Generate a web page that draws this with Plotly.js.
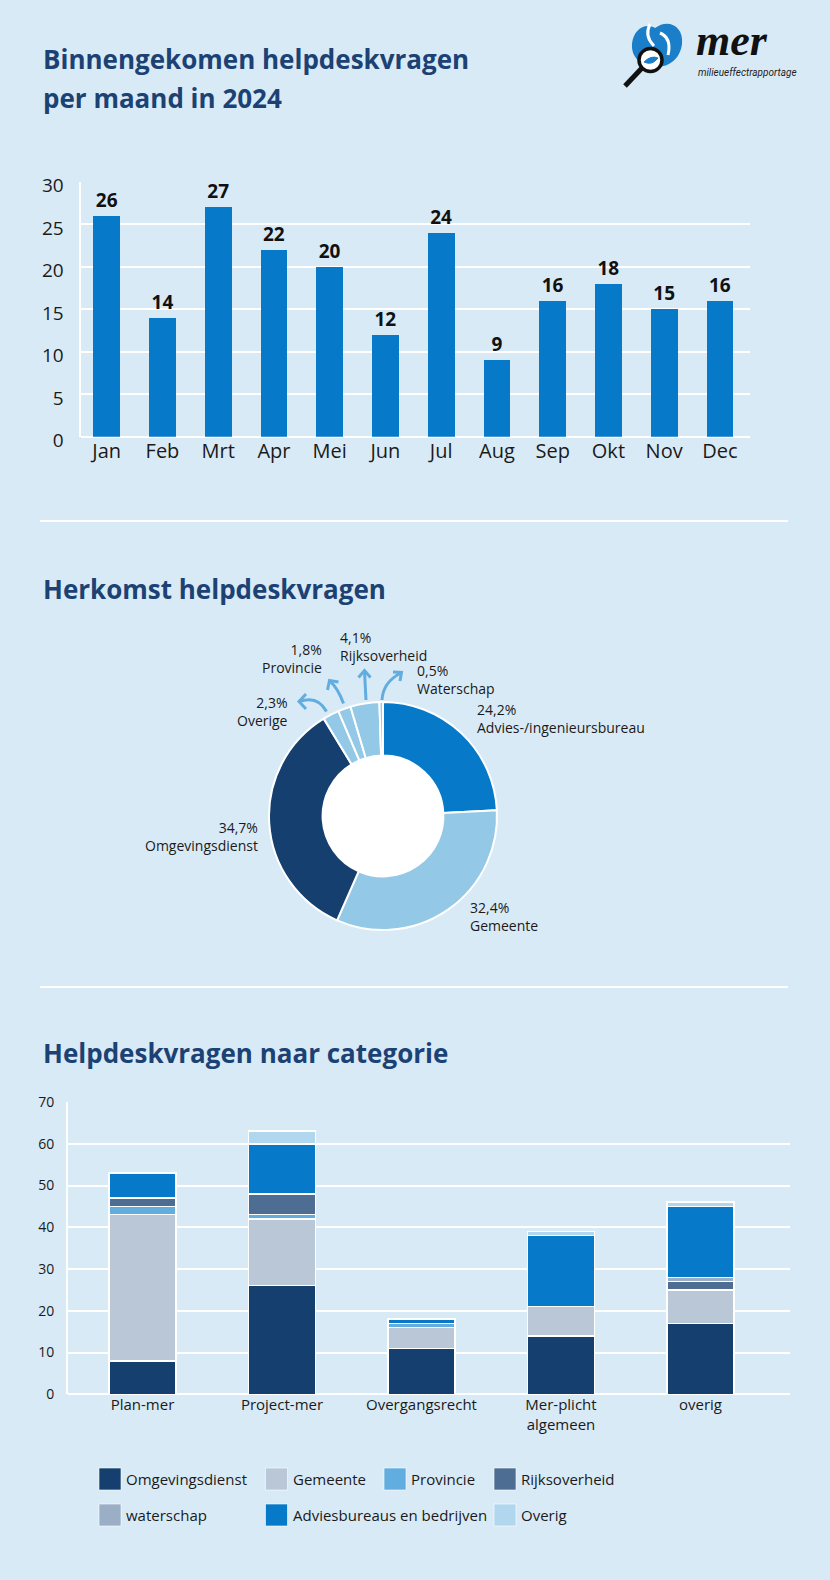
<!DOCTYPE html>
<html>
<head>
<meta charset="utf-8">
<script src="https://cdn.plot.ly/plotly-3.0.1.min.js"></script>
<style>html,body{margin:0;padding:0;background:#d9eaf7;}#chart{width:830px;height:1580px;}</style>
</head>
<body>
<div id="chart"></div>
<script>
// ---------- DATA ----------
const months = ['Jan','Feb','Mrt','Apr','Mei','Jun','Jul','Aug','Sep','Okt','Nov','Dec'];
const monthlyQuestions = [26,14,27,22,20,12,24,9,16,18,15,16];

const originLabels = ['Advies-/ingenieursbureau','Gemeente','Omgevingsdienst','Overige','Provincie','Rijksoverheid','Waterschap'];
const originShares = [24.2,32.4,34.7,2.3,1.8,4.1,0.5];

const categories = ['Plan-mer','Project-mer','Overgangsrecht','Mer-plicht<br>algemeen','overig'];
const seriesNames = ['Omgevingsdienst','Gemeente','Provincie','Rijksoverheid','waterschap','Adviesbureaus en bedrijven','Overig'];
const omgevingsdienst = [8,26,11,14,17];
const gemeente = [35,16,5,7,8];
const provincie = [2,1,1,0,0];
const rijksoverheid = [2,5,0,0,2];
const waterschap = [0,0,0,0,1];
const adviesbureaus = [6,12,1,17,17];
const overig = [0,3,0,1,1];

const titles = ['Binnengekomen helpdeskvragen','per maand in 2024','Herkomst helpdeskvragen','Helpdeskvragen naar categorie'];

// ---------- STYLE ----------
const W = 830, H = 1580;
const X = p => p / W;
const Y = p => 1 - p / H;
const FONT = 'Open Sans, Noto Sans, sans-serif';
const TITLE_COLOR = '#1c4274';
const TXT = '#1a1a1a';
const seriesColors = ['#143f6e','#b9c7d7','#62addf','#4e6d92','#9aaec6','#0679c9','#b1d7ef'];
const pieColors = ['#0679c9','#93c9e7','#143f6e','#93c9e7','#93c9e7','#93c9e7','#93c9e7'];
const ARROW = '#62addf';

const traces = [];

// Chart 1: monthly bars
traces.push({
  type:'bar', x: months, y: monthlyQuestions, xaxis:'x', yaxis:'y',
  marker:{color:'#0679c9'},
  texttemplate:'<b>%{y}</b>', textposition:'outside', constraintext:'none', cliponaxis:false,
  textfont:{family:FONT, size:19, color:'#111'}, hoverinfo:'x+y'
});

// Chart 2: donut
traces.push({
  type:'pie', labels: originLabels, values: originShares, sort:false, direction:'clockwise', rotation:0,
  hole:0.53, textinfo:'none', marker:{colors:pieColors, line:{color:'#ffffff', width:2}},
  domain:{x:[X(269),X(497)], y:[Y(930),Y(702)]}, hoverinfo:'label+percent'
});

// Chart 3: stacked bars
const stackSeries = [omgevingsdienst,gemeente,provincie,rijksoverheid,waterschap,adviesbureaus,overig];
stackSeries.forEach((vals,i)=>{
  traces.push({
    type:'bar', x: categories, y: vals, name: seriesNames[i], xaxis:'x2', yaxis:'y2',
    marker:{color:seriesColors[i], line:{color:'#ffffff', width:1.5}}, hoverinfo:'name+y'
  });
});

// ---------- ANNOTATIONS ----------
const annotations = [];
const titleAnn = (text, y) => ({text:'<b>'+text+'</b>', xref:'paper', yref:'paper', x:X(41), y:Y(y), xanchor:'left', yanchor:'middle', showarrow:false, font:{family:FONT, size:26, color:TITLE_COLOR}});
annotations.push(titleAnn(titles[0], 59));
annotations.push(titleAnn(titles[1], 98));
annotations.push(titleAnn(titles[2], 589));
annotations.push(titleAnn(titles[3], 1053));

// pie labels
const pieLabelPos = [
  {x:475, y:718, a:'left'},
  {x:468, y:916, a:'left'},
  {x:260, y:836, a:'right'},
  {x:290, y:712, a:'right'},
  {x:324, y:658, a:'right'},
  {x:338, y:647, a:'left'},
  {x:415, y:679, a:'left'}
];
originLabels.forEach((lab,i)=>{
  const p = pieLabelPos[i];
  annotations.push({text: originShares[i].toFixed(1).replace('.',',') + '%<br>' + lab,
    xref:'paper', yref:'paper', x:X(p.x), y:Y(p.y), xanchor:p.a, yanchor:'middle', align:p.a,
    showarrow:false, font:{family:FONT, size:14, color:TXT}});
});

// manual legend for chart 3
const legCols = [99, 265.5, 384, 494];
const legRows = [1479, 1515];
const legPlace = [[0,0],[0,1],[0,2],[0,3],[1,0],[1,1],[1,3]];
const shapes = [];
seriesNames.forEach((nm,i)=>{
  const [r,c] = legPlace[i];
  const x0 = legCols[c], yc = legRows[r];
  shapes.push({type:'rect', xref:'paper', yref:'paper', x0:X(x0), x1:X(x0+22), y0:Y(yc+11), y1:Y(yc-11),
    fillcolor:seriesColors[i], line:{color:'rgba(255,255,255,0.6)', width:1}});
  annotations.push({text:nm, xref:'paper', yref:'paper', x:X(x0+25), y:Y(yc), xanchor:'left', yanchor:'middle',
    showarrow:false, font:{family:FONT, size:15, color:TXT}});
});

// separators
shapes.push({type:'line', xref:'paper', yref:'paper', x0:X(40), x1:X(788), y0:Y(521), y1:Y(521), line:{color:'#ffffff', width:2}});
shapes.push({type:'line', xref:'paper', yref:'paper', x0:X(40), x1:X(788), y0:Y(987), y1:Y(987), line:{color:'#ffffff', width:2}});

// white fill of the donut hole (behind the pie)
shapes.push({type:'circle', xref:'paper', yref:'paper', layer:'below', x0:X(383-62), x1:X(383+62), y0:Y(816+62), y1:Y(816-62),
  fillcolor:'#ffffff', line:{width:0}});

// pie callout arrows (curved)
const P = (x,y) => X(x).toFixed(5)+','+Y(y).toFixed(5);
const arrows = [
  {d:'M'+P(326.5,711.5)+' Q'+P(318,695)+' '+P(299,701.5), h:['M'+P(306,694)+' L'+P(299,701.5)+' L'+P(306,709)]},
  {d:'M'+P(343.5,703.5)+' Q'+P(338,688)+' '+P(329.5,680.5), h:['M'+P(327.5,690)+' L'+P(329.5,680.5)+' L'+P(338.5,682)]},
  {d:'M'+P(366,700)+' L'+P(364.5,671), h:['M'+P(358.5,677.5)+' L'+P(364.5,670.5)+' L'+P(370.5,677.5)]},
  {d:'M'+P(382,700)+' Q'+P(383,682)+' '+P(401,673), h:['M'+P(393,672)+' L'+P(401.5,672.5)+' L'+P(400,681)]}
];
arrows.forEach(a=>{
  shapes.push({type:'path', xref:'paper', yref:'paper', path:a.d, line:{color:ARROW, width:3}});
  a.h.forEach(h=>shapes.push({type:'path', xref:'paper', yref:'paper', path:h, line:{color:ARROW, width:3}}));
});

// logo
shapes.push({type:'path', xref:'paper', yref:'paper',
  path:'M'+P(655,28)+' C'+P(668,18)+' '+P(684,26)+' '+P(682,44)+' C'+P(680,60)+' '+P(668,67)+' '+P(656,67)+' C'+P(640,67)+' '+P(631,56)+' '+P(632,44)+' C'+P(633,30)+' '+P(645,22)+' '+P(655,28)+' Z',
  fillcolor:'#1a7ec8', line:{width:0}});
shapes.push({type:'path', xref:'paper', yref:'paper', path:'M'+P(650,24)+' Q'+P(644,36)+' '+P(654,46), line:{color:'#ffffff', width:3}});
shapes.push({type:'path', xref:'paper', yref:'paper', path:'M'+P(660,33)+' Q'+P(672,38)+' '+P(668,55), line:{color:'#ffffff', width:3}});
shapes.push({type:'line', xref:'paper', yref:'paper', x0:X(642), y0:Y(68), x1:X(625), y1:Y(86), line:{color:'#111111', width:5}});
shapes.push({type:'circle', xref:'paper', yref:'paper', x0:X(639), x1:X(662), y0:Y(71.5), y1:Y(48.5), fillcolor:'#ffffff', line:{color:'#111111', width:3.5}});
shapes.push({type:'path', xref:'paper', yref:'paper', path:'M'+P(644,62)+' Q'+P(651,55)+' '+P(658,58)+' Q'+P(652,66)+' '+P(644,62)+' Z', fillcolor:'#1a7ec8', line:{color:'#1a7ec8', width:1}});
annotations.push({text:'<b><i>mer</i></b>', xref:'paper', yref:'paper', x:X(694), y:Y(40), xanchor:'left', yanchor:'middle', showarrow:false,
  font:{family:'Liberation Serif, DejaVu Serif, serif', size:44, color:'#111111'}});
annotations.push({text:'<i>milieueffectrapportage</i>', xref:'paper', yref:'paper', x:X(696), y:Y(72), xanchor:'left', yanchor:'middle', showarrow:false,
  font:{family:'Liberation Sans Narrow, Roboto, sans-serif', size:10, color:'#222222'}});

// ---------- LAYOUT ----------
const layout = {
  width:W, height:H, margin:{l:0,r:0,t:0,b:0},
  paper_bgcolor:'#d9eaf7', plot_bgcolor:'rgba(0,0,0,0)',
  showlegend:false, barmode:'stack', bargap:0.52,
  font:{family:FONT, color:TXT},
  xaxis:{domain:[X(80.5),X(750)], anchor:'y', type:'category', range:[-0.47,11.54], showgrid:false, showline:false, zeroline:false,
    ticks:'', tickfont:{family:FONT, size:20, color:TXT}, fixedrange:true},
  yaxis:{domain:[Y(436.7),Y(181.7)], anchor:'x', range:[0,30], dtick:5, gridcolor:'#ffffff', gridwidth:2,
    showline:true, linecolor:'#ffffff', linewidth:2, zeroline:true, zerolinecolor:'#ffffff', zerolinewidth:2,
    ticks:'', tickfont:{family:FONT, size:19, color:TXT}, ticklabelstandoff:11, ticklabelshift:4, fixedrange:true},
  xaxis2:{domain:[X(68),X(790)], anchor:'y2', type:'category', range:[-0.534,4.642], showgrid:false, showline:false, zeroline:false,
    ticks:'', tickfont:{family:FONT, size:15, color:TXT}, fixedrange:true},
  yaxis2:{domain:[Y(1394.3),Y(1102)], anchor:'x2', range:[0,70], dtick:10, gridcolor:'#ffffff', gridwidth:2,
    showline:true, linecolor:'#ffffff', linewidth:2, zeroline:true, zerolinecolor:'#ffffff', zerolinewidth:2,
    ticks:'', tickfont:{family:FONT, size:14, color:TXT}, ticklabelstandoff:9, fixedrange:true},
  annotations: annotations,
  shapes: shapes
};

Plotly.newPlot('chart', traces, layout, {displayModeBar:false, staticPlot:true});
</script>
</body>
</html>
